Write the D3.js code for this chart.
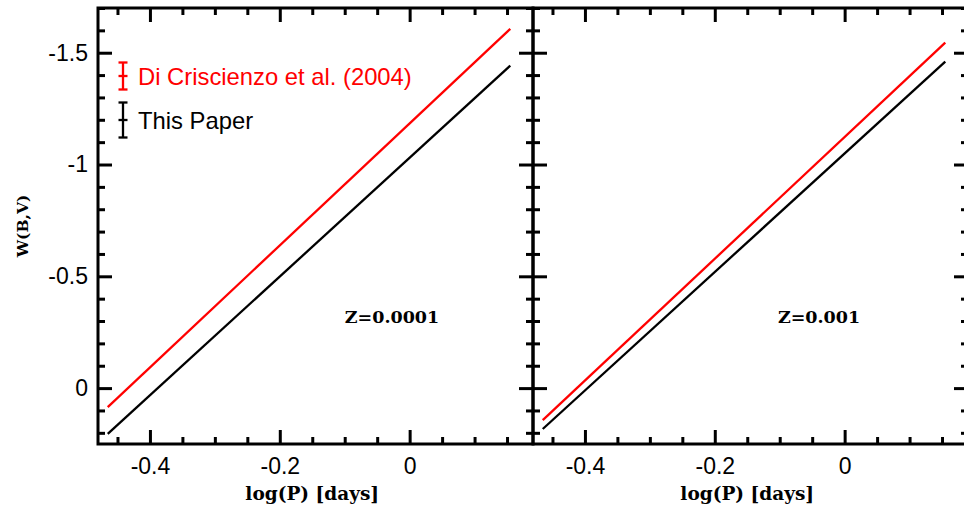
<!DOCTYPE html>
<html>
<head>
<meta charset="utf-8">
<script src="https://cdn.jsdelivr.net/npm/d3@7"></script>
<style>
  body { margin: 0; background: #fff; }
  .tick text { font-family: "Liberation Sans", Arial, sans-serif; font-size: 23px; fill: #000; }
  .tick line { stroke: #000; stroke-width: 3; }
  .lbl { font-family: "DejaVu Serif", serif; font-weight: bold; }
</style>
</head>
<body>
<div id="root"></div>
<script>
var width = 964;
var height = 510;

// data
var logP = [-0.465, 0.155];
var panels = ['Z=0.0001', 'Z=0.001'];
var redW = [[0.085, -1.607], [0.143, -1.545]];   // Di Criscienzo et al. (2004)
var blackW = [[0.205, -1.442], [0.183, -1.46]];  // This Paper
var xMajor = [-0.4, -0.2, 0];
var xLabels = ['-0.4', '-0.2', '0'];
var yMajor = [-1.5, -1, -0.5, 0];
var yLabels = ['-1.5', '-1', '-0.5', '0'];

var svg = d3.select('#root')
    .append('svg')
    .attr('width', width).attr('height', height);

var padding = { left: 98, top: 8, bottom: 66 };
var panelW = 435;
var plotH = height - padding.top - padding.bottom;

var xScale = d3.scaleLinear().domain([-0.48, 0.19]).range([0, panelW]);
var yScale = d3.scaleLinear().domain([-1.7, 0.25]).range([0, plotH]);

var xMinor = d3.range(-0.45, 0.19, 0.05).filter(function (d) { return Math.abs(Math.round(d * 20) % 4) != 0; });
var yMinor = d3.range(-1.7, 0.26, 0.1).filter(function (d) { return Math.abs(Math.round(d * 10) % 5) != 0; });

var line = d3.line()
    .x(function (d) { return xScale(d[0]); })
    .y(function (d) { return yScale(d[1]); });

panels.forEach(function (name, p) {
    var g = svg.append('g')
        .attr('transform', 'translate(' + (padding.left + p * panelW) + ',' + padding.top + ')');

    // bottom axis with labels
    g.append('g').attr('transform', 'translate(0,' + plotH + ')')
        .call(d3.axisBottom(xScale).tickValues(xMajor).tickSize(-14).tickPadding(14)
            .tickFormat(function (d, i) { return xLabels[i]; }));
    g.append('g').attr('transform', 'translate(0,' + plotH + ')')
        .call(d3.axisBottom(xScale).tickValues(xMinor).tickSize(-7).tickFormat(''));
    // top axis ticks
    g.append('g').call(d3.axisTop(xScale).tickValues(xMajor).tickSize(-14).tickFormat(''));
    g.append('g').call(d3.axisTop(xScale).tickValues(xMinor).tickSize(-7).tickFormat(''));
    // left axis
    var yl = g.append('g')
        .call(d3.axisLeft(yScale).tickValues(yMajor).tickSize(-14).tickPadding(10)
            .tickFormat(function (d, i) { return yLabels[i]; }));
    if (p == 1) yl.selectAll('text').remove();
    g.append('g').call(d3.axisLeft(yScale).tickValues(yMinor).tickSize(-7).tickFormat(''));
    // right axis
    g.append('g').attr('transform', 'translate(' + panelW + ',0)')
        .call(d3.axisRight(yScale).tickValues(yMajor).tickSize(-14).tickFormat(''));
    g.append('g').attr('transform', 'translate(' + panelW + ',0)')
        .call(d3.axisRight(yScale).tickValues(yMinor).tickSize(-7).tickFormat(''));

    g.selectAll('.domain').remove();

    g.append('rect')
        .attr('width', panelW).attr('height', plotH)
        .attr('fill', 'none').attr('stroke', '#000').attr('stroke-width', 3);

    g.append('path')
        .datum(logP.map(function (x, i) { return [x, blackW[p][i]]; }))
        .attr('d', line).attr('fill', 'none').attr('stroke', '#000').attr('stroke-width', 2.3);
    g.append('path')
        .datum(logP.map(function (x, i) { return [x, redW[p][i]]; }))
        .attr('d', line).attr('fill', 'none').attr('stroke', '#ff0000').attr('stroke-width', 2.3);

    g.append('text').attr('class', 'lbl')
        .attr('x', p == 0 ? 294 : 286).attr('y', yScale(-0.32))
        .attr('text-anchor', 'middle').attr('dy', '0.35em')
        .style('font-size', '17.5px')
        .text(name);

    g.append('text').attr('class', 'lbl')
        .attr('x', xScale(-0.15)).attr('y', plotH + 56)
        .attr('text-anchor', 'middle')
        .style('font-size', '18.5px')
        .text('log(P) [days]');
});

svg.append('text').attr('class', 'lbl')
    .attr('transform', 'translate(28,226) rotate(-90)')
    .attr('text-anchor', 'middle')
    .style('font-size', '15.5px')
    .text('W(B,V)');

// legend
var legend = [
    { name: 'Di Criscienzo et al. (2004)', color: '#ff0000', cy: 76, h: 27 },
    { name: 'This Paper', color: '#000', cy: 120, h: 35 }
];
legend.forEach(function (d) {
    var lg = svg.append('g').attr('transform', 'translate(123,' + d.cy + ')')
        .attr('stroke', d.color).attr('stroke-width', 2.3);
    lg.append('line').attr('y1', -d.h / 2).attr('y2', d.h / 2);
    lg.append('line').attr('x1', -4.5).attr('x2', 4.5).attr('y1', -d.h / 2).attr('y2', -d.h / 2);
    lg.append('line').attr('x1', -4.5).attr('x2', 4.5).attr('y1', d.h / 2).attr('y2', d.h / 2);
    lg.append('line').attr('x1', -4.5).attr('x2', 4.5);
    svg.append('text')
        .attr('x', 138).attr('y', d.cy + 1).attr('dy', '0.35em')
        .attr('fill', d.color)
        .style('font-family', '"Liberation Sans", Arial, sans-serif')
        .style('font-size', '23.8px')
        .text(d.name);
});
</script>
</body>
</html>
